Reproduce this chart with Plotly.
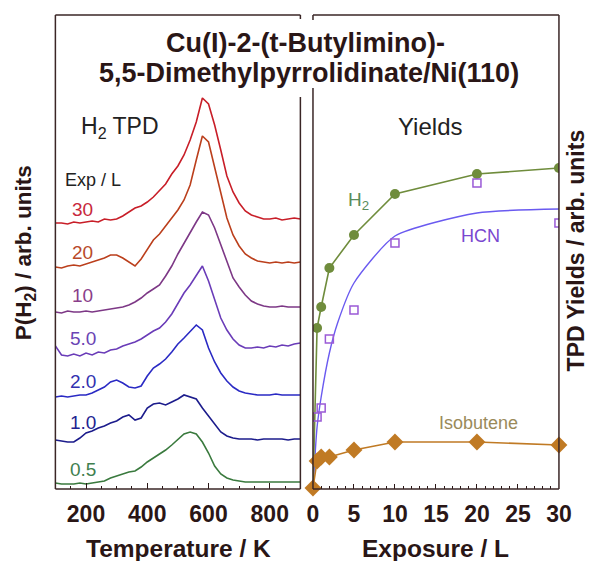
import plotly.graph_objects as go

# ---------------- data ----------------
temperature = list(range(100, 901, 20))  # K

tpd_labels = ["30", "20", "10", "5.0", "2.0", "1.0", "0.5"]
tpd_30 = [266, 266, 265, 267, 266, 267, 268, 267, 270, 269, 270, 273, 277, 281, 283, 287, 292, 298, 305, 315, 323,
          334, 349, 367, 391, 385, 364, 339, 313, 297, 286, 278, 274, 272, 270, 270, 271, 269, 270, 271, 270]
tpd_20 = [222, 221, 223, 224, 223, 225, 227, 229, 231, 234, 234, 231, 227, 223, 230, 240, 249, 255, 263, 271, 279,
          289, 304, 329, 353, 347, 321, 294, 271, 254, 243, 235, 231, 228, 227, 226, 227, 226, 227, 226, 227]
tpd_10 = [177, 176, 178, 177, 177, 178, 177, 178, 179, 180, 181, 182, 184, 187, 191, 196, 200, 204, 213, 223, 235,
          246, 257, 267, 277, 274, 261, 244, 227, 211, 202, 194, 188, 185, 183, 182, 182, 183, 182, 182, 182]
tpd_5 = [143, 134, 133, 135, 133, 136, 134, 137, 136, 139, 140, 143, 145, 147, 150, 154, 158, 161, 167, 175, 185,
         196, 204, 213, 223, 208, 189, 171, 159, 150, 144, 141, 141, 142, 141, 143, 142, 144, 143, 145, 146]
tpd_2 = [92, 93, 92, 93, 94, 94, 96, 99, 102, 107, 109, 106, 102, 101, 103, 113, 121, 125, 130, 137, 145,
         151, 157, 164, 159, 141, 127, 116, 108, 102, 98, 96, 95, 94, 94, 94, 95, 94, 94, 94, 94]
tpd_1 = [49, 48, 47, 47, 51, 56, 58, 61, 63, 66, 68, 72, 74, 69, 71, 81, 85, 86, 84, 87, 90,
         94, 92, 90, 81, 73, 65, 57, 53, 51, 50, 50, 50, 49, 50, 50, 50, 50, 49, 50, 50]
tpd_05 = [6, 5, 5, 5, 6, 5, 6, 7, 8, 11, 13, 15, 17, 18, 22, 27, 31, 35, 39, 44, 50,
          55, 57, 55, 47, 36, 23, 15, 11, 9, 8, 7, 7, 7, 7, 7, 7, 7, 7, 7, 7]
tpd_series = [tpd_30, tpd_20, tpd_10, tpd_5, tpd_2, tpd_1, tpd_05]
tpd_colors = ["#c81e28", "#bb3f1c", "#7d3886", "#6a3cb8", "#2a2ac4", "#1c1c8c", "#3a7a3e"]
label_colors = ["#c8283c", "#b84a2a", "#8a3e8a", "#6a44b4", "#3232b0", "#222290", "#3f7f4f"]

exposure_h2 = [0, 0.5, 1, 2, 5, 10, 20, 30]
yield_h2 = [0, 161, 182, 221, 254, 295, 315, 321]
exposure_hcn = [0.5, 1, 2, 5, 10, 20, 30]
yield_hcn = [72, 81, 150, 179, 246, 306, 266]
exposure_hcn_fit = [0, 0.5, 1, 2, 3, 5, 10, 20, 30]
yield_hcn_fit = [0, 62, 92, 136, 166, 206, 253, 276, 280]
exposure_iso = [0, 0.5, 1, 2, 5, 10, 20, 30]
yield_iso = [1, 28, 32, 32, 39, 47, 47, 44]

W, H = 601, 561
FONT = "Liberation Sans, Arial, Helvetica, sans-serif"
INK = "#2a1616"

def px(x):
    return x / W

def py(y):
    return 1 - y / H

L0, L1 = 51, 304
R0, R1 = 317, 571
TOP, BOT = 15, 489

fig = go.Figure()

for vals, col in zip(tpd_series, tpd_colors):
    fig.add_trace(go.Scatter(x=temperature, y=vals, mode="lines",
                             line=dict(color=col, width=1.6), xaxis="x", yaxis="y",
                             showlegend=False, hoverinfo="skip"))

fig.add_trace(go.Scatter(x=exposure_hcn_fit, y=yield_hcn_fit, mode="lines",
                         line=dict(color="#6a5af0", width=1.4, shape="spline", smoothing=0.6),
                         xaxis="x2", yaxis="y2", showlegend=False))
fig.add_trace(go.Scatter(x=exposure_h2, y=yield_h2, mode="lines+markers",
                         line=dict(color="#6f8c3c", width=1.6),
                         marker=dict(symbol="circle", size=10, color="#6f8c3c"),
                         xaxis="x2", yaxis="y2", showlegend=False))
fig.add_trace(go.Scatter(x=exposure_hcn, y=yield_hcn, mode="markers",
                         marker=dict(symbol="square-open", size=8, color="#9a5ad6", line=dict(width=1.5)),
                         xaxis="x2", yaxis="y2", showlegend=False))
fig.add_trace(go.Scatter(x=exposure_iso, y=yield_iso, mode="lines+markers",
                         line=dict(color="#c07a24", width=1.6),
                         marker=dict(symbol="diamond", size=13, color="#c07a24"),
                         xaxis="x2", yaxis="y2", showlegend=False, cliponaxis=False))

tickfont = dict(family=FONT, size=23, color=INK, weight="bold")
common_x = dict(ticks="inside", tickcolor=INK, showgrid=False, zeroline=False,
                showline=False, tickfont=tickfont, ticklabelstandoff=9)

fig.update_layout(
    width=W, height=H, margin=dict(l=0, r=0, t=0, b=0),
    plot_bgcolor="white", paper_bgcolor="white",
    xaxis=dict(domain=[px(L0), px(L1)], range=[100, 900], tickvals=[200, 400, 600, 800],
               ticklen=6, tickwidth=1.2,
               minor=dict(ticks="inside", dtick=50, ticklen=3, tickcolor=INK, tickwidth=1), **common_x),
    yaxis=dict(domain=[py(BOT), py(TOP)], range=[0, BOT - TOP], visible=False),
    xaxis2=dict(domain=[px(R0), px(R1)], range=[0, 30], dtick=5, ticklen=5, tickwidth=1.2,
                minor=dict(ticks="inside", dtick=1, ticklen=3, tickcolor=INK, tickwidth=1),
                anchor="y2", **common_x),
    yaxis2=dict(domain=[py(BOT), py(TOP)], range=[0, BOT - TOP], visible=False, anchor="x2"),
)

# frames (drawn as segments, broken where the title passes)
frame = dict(color="#3a2626", width=1.5)
segments = [
    (L0, TOP, L1, TOP), (L0, TOP, L0, BOT), (L0, BOT, L1, BOT),
    (L1, TOP, L1, 19), (L1, 97, L1, BOT),
    (R0, TOP, R1, TOP), (R1, TOP, R1, BOT), (R0, BOT, R1, BOT),
    (R0, TOP, R0, 20), (R0, 88, R0, BOT),
]
for x0, y0, x1, y1 in segments:
    fig.add_shape(type="line", xref="paper", yref="paper",
                  x0=px(x0), y0=py(y0), x1=px(x1), y1=py(y1), line=frame)

def note(text, x, y, size, color=INK, bold=False, angle=0):
    fig.add_annotation(text=text, xref="paper", yref="paper", x=px(x), y=py(y),
                       xanchor="center", yanchor="middle", showarrow=False, textangle=angle,
                       font=dict(family=FONT, size=size, color=color,
                                 weight="bold" if bold else "normal"))

note("Cu(I)-2-(t-Butylimino)-", 309, 43, 27, bold=True)
note("5,5-Dimethylpyrrolidinate/Ni(110)", 313, 73, 27, bold=True)
note("H<sub>2</sub> TPD", 118, 128, 23, color="#222")
note("Yields", 438, 127, 24, color="#222")
note("Exp / L", 90, 180, 18, color="#222")

label_y = [210, 253, 295, 338, 381, 422, 469]
for lab, yy, col in zip(tpd_labels, label_y, label_colors):
    note(lab, 79, yy, 19, color=col)

note("H<sub>2</sub>", 364, 201, 19, color="#5a8c5a")
note("HCN", 490, 236, 18, color="#7a48d0")
note("Isobutene", 488, 423, 18, color="#9a8a5a")

note("Temperature / K", 178, 548, 24.5, bold=True)
note("Exposure / L", 444, 548, 24.5, bold=True)
note("P(H<sub>2</sub>) / arb. units", 20, 253, 22.5, bold=True, angle=-90)
note("TPD Yields / arb. units", 589, 250, 23, bold=True, angle=-90)

fig.write_html("out.html")
